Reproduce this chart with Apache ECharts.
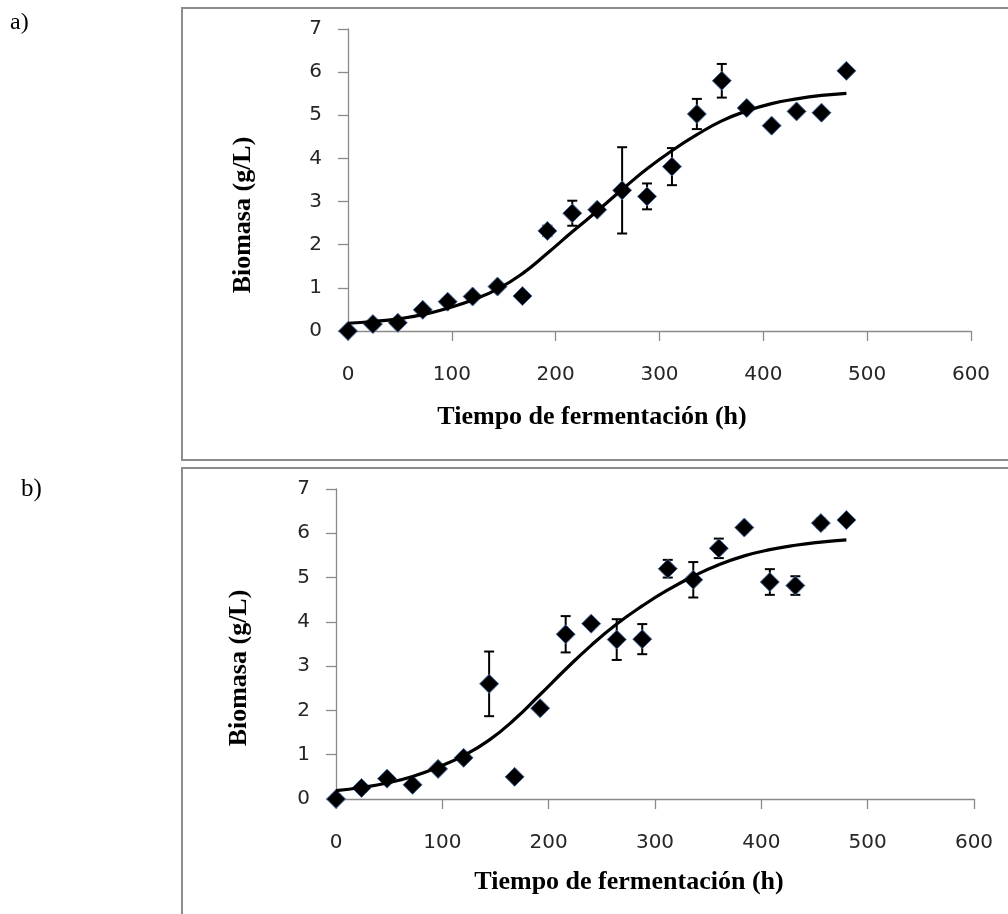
<!DOCTYPE html>
<html>
<head>
<meta charset="utf-8">
<script src="https://cdn.jsdelivr.net/npm/echarts@6/dist/echarts.min.js"></script>
<style>
  html, body { margin: 0; padding: 0; background: #fff; }
  #main { width: 1008px; height: 914px; }
</style>
</head>
<body>
<div id="main"></div>
<script>
// tiempo (h), comun a los dos paneles
var tiempo = [0, 24, 48, 72, 96, 120, 144, 168, 192, 216, 240, 264, 288, 312, 336, 360, 384, 408, 432, 456, 480];

// panel a)
var biomasaA = [0, 0.16, 0.19, 0.49, 0.68, 0.80, 1.03, 0.81, 2.32, 2.73, 2.81, 3.26, 3.12, 3.81, 5.03, 5.80, 5.17, 4.76, 5.09, 5.06, 6.03];
var errorA   = [0, 0, 0, 0, 0, 0, 0, 0, 0.12, 0.29, 0.05, 1.0, 0.3, 0.43, 0.35, 0.39, 0, 0, 0.06, 0, 0.08];
var ajusteA  = [0.18, 0.22, 0.28, 0.38, 0.53, 0.72, 0.97, 1.33, 1.80, 2.30, 2.78, 3.28, 3.76, 4.18, 4.55, 4.87, 5.10, 5.27, 5.38, 5.46, 5.51];

// panel b)
var biomasaB = [0, 0.25, 0.46, 0.32, 0.68, 0.93, 2.60, 0.50, 2.05, 3.72, 3.96, 3.60, 3.61, 5.20, 4.95, 5.66, 6.13, 4.90, 4.82, 6.23, 6.30];
var errorB   = [0, 0, 0, 0, 0, 0, 0.73, 0, 0, 0.41, 0, 0.46, 0.34, 0.2, 0.4, 0.22, 0, 0.29, 0.21, 0.1, 0];
var ajusteB  = [0.19, 0.26, 0.36, 0.51, 0.72, 0.98, 1.33, 1.80, 2.36, 2.93, 3.47, 3.95, 4.36, 4.72, 5.03, 5.29, 5.49, 5.63, 5.73, 5.80, 5.85];

var xTicks = [0, 100, 200, 300, 400, 500, 600];
var yTicks = [0, 1, 2, 3, 4, 5, 6, 7];

var ejeX = 'Tiempo de fermentación (h)';
var ejeY = 'Biomasa (g/L)';

function pares(ys) {
    return tiempo.map(function (t, i) { return [t, ys[i]]; });
}
function barras(ys, es) {
    var out = [];
    tiempo.forEach(function (t, i) {
        if (es[i] > 0) out.push([t, ys[i] - es[i], ys[i] + es[i]]);
    });
    return out;
}

var axisGray = '#8a8a8a';
var labelFont = { fontFamily: 'DejaVu Sans', fontSize: 20, color: '#262626' };

function xAxisCfg(idx) {
    return {
        type: 'value', gridIndex: idx, min: xTicks[0], max: xTicks[xTicks.length - 1], interval: 100,
        axisLine: { show: true, lineStyle: { color: axisGray, width: 1.3 } },
        axisTick: { show: true, length: 10, lineStyle: { color: axisGray, width: 1.3 } },
        splitLine: { show: false },
        axisLabel: Object.assign({ margin: 34 }, labelFont)
    };
}
function yAxisCfg(idx) {
    return {
        type: 'value', gridIndex: idx, min: yTicks[0], max: yTicks[yTicks.length - 1], interval: 1,
        axisLine: { show: true, lineStyle: { color: axisGray, width: 1.3 } },
        axisTick: { show: true, length: 10, lineStyle: { color: axisGray, width: 1.3 } },
        splitLine: { show: false },
        axisLabel: Object.assign({ margin: 26 }, labelFont)
    };
}

// barras de error
function renderError(params, api) {
    var t = api.value(0);
    var lo = api.coord([t, api.value(1)]);
    var hi = api.coord([t, api.value(2)]);
    var w = 5;
    var st = { stroke: '#000', lineWidth: 2 };
    return {
        type: 'group',
        children: [
            { type: 'line', shape: { x1: lo[0], y1: lo[1], x2: hi[0], y2: hi[1] }, style: st },
            { type: 'line', shape: { x1: hi[0] - w, y1: hi[1], x2: hi[0] + w, y2: hi[1] }, style: st },
            { type: 'line', shape: { x1: lo[0] - w, y1: lo[1], x2: lo[0] + w, y2: lo[1] }, style: st }
        ]
    };
}

function series(idx, ys, es, fit) {
    return [
        {
            type: 'custom', xAxisIndex: idx, yAxisIndex: idx,
            renderItem: renderError, data: barras(ys, es), z: 2
        },
        {
            type: 'scatter', xAxisIndex: idx, yAxisIndex: idx,
            symbol: 'diamond', symbolSize: [19, 19],
            itemStyle: { color: '#000', borderColor: '#4a6ea8', borderWidth: 1, opacity: 1 },
            data: pares(ys), z: 3
        },
        {
            type: 'line', xAxisIndex: idx, yAxisIndex: idx,
            smooth: 0.5, showSymbol: false,
            lineStyle: { color: '#000', width: 3.2 },
            data: pares(fit), z: 4
        }
    ];
}

var titleFont = { fontFamily: 'Liberation Serif', fontWeight: 'bold', fontSize: 26, fill: '#000' };

const myChart = echarts.init(document.getElementById('main'));
let option = {
    animation: false,
    backgroundColor: '#fff',
    grid: [
        { left: 348, top: 29, width: 623, height: 302 },
        { left: 336, top: 489, width: 638, height: 310 }
    ],
    xAxis: [xAxisCfg(0), xAxisCfg(1)],
    yAxis: [yAxisCfg(0), yAxisCfg(1)],
    series: series(0, biomasaA, errorA, ajusteA).concat(series(1, biomasaB, errorB, ajusteB)),
    graphic: [
        // marcos
        { type: 'rect', shape: { x: 182, y: 8, width: 840, height: 452 }, style: { fill: 'none', stroke: '#8c8c8c', lineWidth: 2 }, silent: true },
        { type: 'rect', shape: { x: 182, y: 468, width: 840, height: 460 }, style: { fill: 'none', stroke: '#8c8c8c', lineWidth: 2 }, silent: true },
        // etiquetas de panel
        { type: 'text', x: 10, y: 11, style: { text: 'a)', fontFamily: 'Liberation Serif', fontSize: 24, fill: '#000' } },
        { type: 'text', x: 21, y: 477, style: { text: 'b)', fontFamily: 'Liberation Serif', fontSize: 25, fill: '#000' } },
        // titulos de ejes
        { type: 'text', x: 592, y: 417, style: Object.assign({ text: ejeX, align: 'center', verticalAlign: 'middle' }, titleFont) },
        { type: 'text', x: 243, y: 215, rotation: Math.PI / 2, style: Object.assign({ text: ejeY, align: 'center', verticalAlign: 'middle' }, titleFont) },
        { type: 'text', x: 629, y: 882, style: Object.assign({ text: ejeX, align: 'center', verticalAlign: 'middle' }, titleFont) },
        { type: 'text', x: 239, y: 668, rotation: Math.PI / 2, style: Object.assign({ text: ejeY, align: 'center', verticalAlign: 'middle' }, titleFont) }
    ]
};
option && myChart.setOption(option);
</script>
</body>
</html>
